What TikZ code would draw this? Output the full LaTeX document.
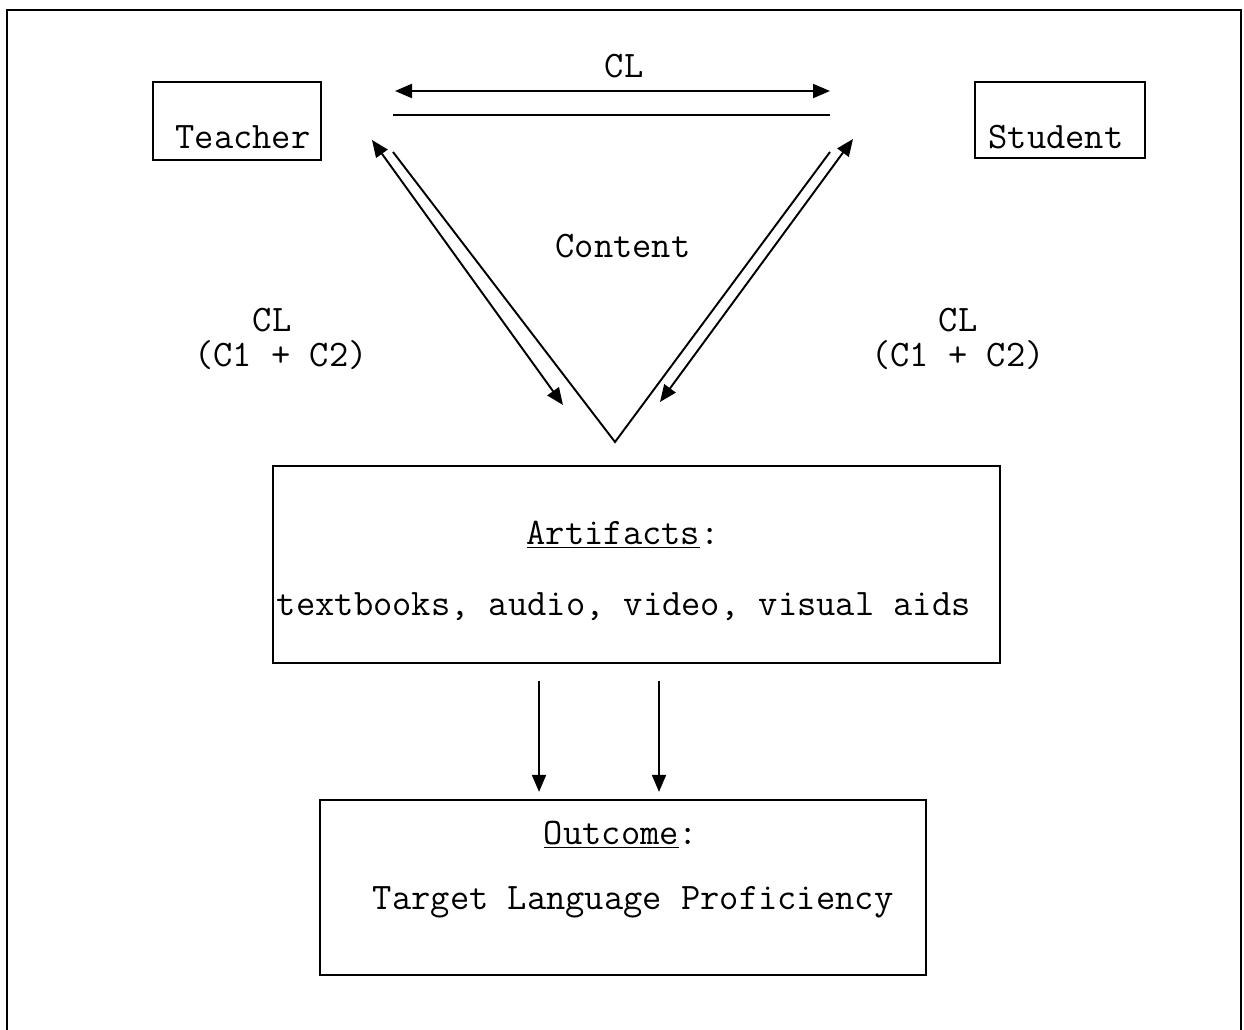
\documentclass[tikz,border=0pt]{standalone}
\usepackage{fontspec}
\setmainfont{Liberation Mono}
\usetikzlibrary{arrows.meta}
\begin{document}
\begin{tikzpicture}[x=0.02cm,y=-0.02cm,line width=1.1pt,
  tip/.style={-{Triangle[length=0.34cm,width=0.28cm]}},
  dtip/.style={{Triangle[length=0.34cm,width=0.28cm]}-{Triangle[length=0.34cm,width=0.28cm]}},
  boxnode/.style={draw,line width=1.3pt,inner sep=0pt},
  txt/.style={font=\ttfamily\fontsize{21.3}{25}\selectfont,inner sep=0pt}]
\useasboundingbox (0,0) rectangle (1244,1030);
% outer frame
\draw[line width=1.3pt] (7,1030) -- (7,10) -- (1241,10) -- (1241,1030);
% boxes
\node[boxnode,minimum width=3.36cm,minimum height=1.56cm] (teacher) at (237,121) {};
\node[txt] (teachert) at (243,137) {Teacher};
\node[boxnode,minimum width=3.40cm,minimum height=1.52cm] (student) at (1060,120) {};
\node[txt] (studentt) at (1056,137) {Student};
\node[boxnode,minimum width=14.54cm,minimum height=3.94cm] (artifacts) at (636.5,564.5) {};
\node[txt] (artt) at (623,535) {\underline{Artifacts}:};
\node[txt,anchor=west] (artl) at (276,607) {textbooks, audio, video, visual aids};
\node[boxnode,minimum width=12.12cm,minimum height=3.5cm] (outcome) at (623,887.5) {};
\node[txt] (outt) at (621,835) {\underline{Outcome}:};
\node[txt,anchor=west] (outl) at (372,902) {Target Language Proficiency};
% triangle
\coordinate (tl) at (393,152);
\coordinate (vb) at (615,442);
\coordinate (tr) at (830,152);
\coordinate (ltop) at (393,115);
\coordinate (rtop) at (830,115);
\draw (tl) -- (vb) -- (tr);
\draw (ltop) -- (rtop);
% top CL arrow
\coordinate (ca) at (395,91);
\coordinate (cb) at (830,91);
\draw[dtip] (ca) -- (cb);
\node[txt] (cltop) at (624,66) {CL};
% side arrows
\coordinate (la) at (372,140);
\coordinate (lb) at (563,405);
\draw[dtip] (la) -- (lb);
\coordinate (ra) at (853,139);
\coordinate (rb) at (660,402);
\draw[dtip] (ra) -- (rb);
\node[txt] (content) at (623,246) {Content};
\node[txt] (cll) at (272,320) {CL};
\node[txt] (cll2) at (281,355) {(C1 + C2)};
\node[txt] (clr) at (958,320) {CL};
\node[txt] (clr2) at (958,355) {(C1 + C2)};
% down arrows
\draw[tip,shorten <=0.34cm,shorten >=0.14cm] ([xshift=-1.95cm]artifacts.south) -- ([xshift=-1.95cm]artifacts.south |- outcome.north);
\draw[tip,shorten <=0.34cm,shorten >=0.14cm] ([xshift=0.45cm]artifacts.south) -- ([xshift=0.45cm]artifacts.south |- outcome.north);
\end{tikzpicture}
\end{document}
